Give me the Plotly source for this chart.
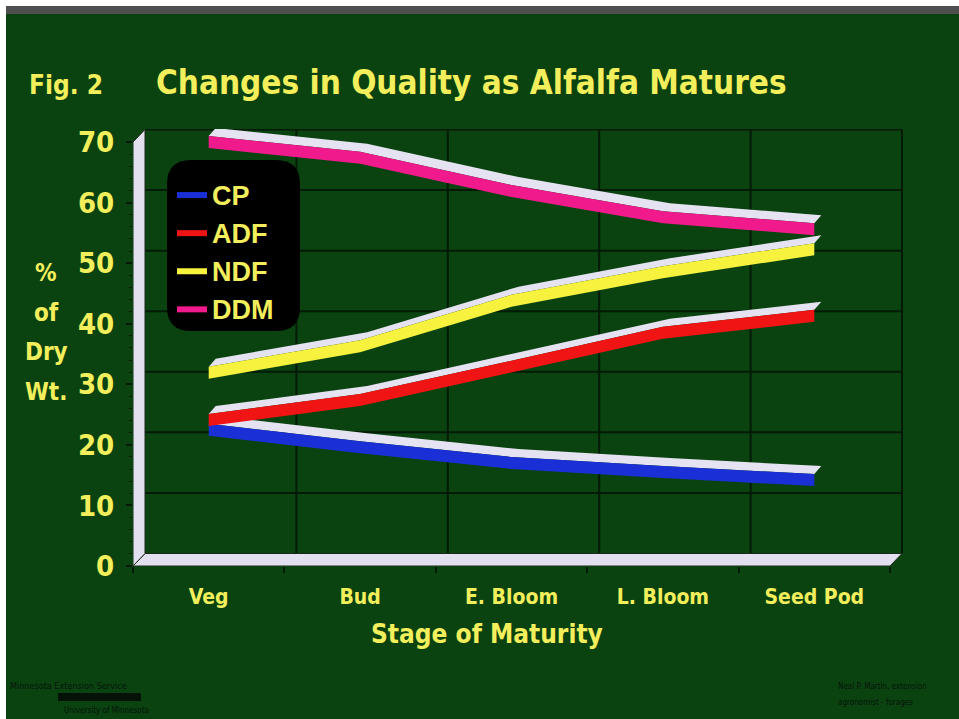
import plotly.graph_objects as go

# ---- data -------------------------------------------------------------
stages = ["Veg", "Bud", "E. Bloom", "L. Bloom", "Seed Pod"]
cp = [22.5, 19.6, 17.0, 15.5, 14.2]
adf = [24.1, 27.4, 32.9, 38.5, 41.3]
ndf = [31.9, 36.3, 43.8, 48.5, 52.3]
ddm = [70.0, 67.4, 61.9, 57.6, 55.6]
series_names = ["CP", "ADF", "NDF", "DDM"]
series_values = [cp, adf, ndf, ddm]
series_colors = ["#1b2fd6", "#f01414", "#f6f23e", "#f01a8c"]
y_ticks = [0, 10, 20, 30, 40, 50, 60, 70]
y_title_lines = ["%", "of", "Dry", "Wt."]

# ---- geometry ---------------------------------------------------------
W, H = 959, 719
ML, MR, MT, MB = 133, 54, 129, 153
PW, PH = W - ML - MR, H - MT - MB
CAT_PX = 151.4                       # pixels per category slot
Y_MAX = 72.15
X0 = -0.5
X1 = X0 + PW / CAT_PX
UNIT_PX = PH / Y_MAX                 # pixels per percentage point
N = len(stages)

DX = 12 / CAT_PX                     # depth of the 3-D box
DY = 12.5 / UNIT_PX
HALF = 6 / UNIT_PX                   # half height of a ribbon's front face
RDX = 7 / CAT_PX                     # depth of a ribbon's top face
RDY = 8 / UNIT_PX

BG = "#0a4310"
TXT = "#f3ef5c"
RIB_TOP = "#e5e3f1"
GRID = "#031a06"
WALL = "#e2e0ee"
INK = "#061409"


def px(xp):
    return (xp - ML) / PW


def py(yp):
    return (H - MB - yp) / PH


fig = go.Figure()

xs = list(range(N))
for name, vals, col in zip(series_names, series_values, series_colors):
    # top (lit) face of the ribbon
    top_x = xs + [x + RDX for x in xs[::-1]]
    top_y = [v + HALF for v in vals] + [v + HALF + RDY for v in vals[::-1]]
    fig.add_trace(go.Scatter(
        x=top_x + [top_x[0]], y=top_y + [top_y[0]], mode="lines",
        fill="toself", fillcolor=RIB_TOP, line=dict(width=0, color=RIB_TOP),
        showlegend=False, hoverinfo="skip"))
    # coloured front face
    f_x = xs + xs[::-1]
    f_y = [v + HALF for v in vals] + [v - HALF for v in vals[::-1]]
    fig.add_trace(go.Scatter(
        x=f_x + [f_x[0]], y=f_y + [f_y[0]], mode="lines",
        fill="toself", fillcolor=col, line=dict(width=0, color=col),
        name=name, hoverinfo="skip"))

shapes = []
# back wall grid
for v in y_ticks[1:]:
    shapes.append(dict(type="line", xref="x", yref="y", layer="below",
                       x0=X0 + DX, x1=X0 + N + DX, y0=v + DY, y1=v + DY,
                       line=dict(color=GRID, width=2)))
for b in range(1, N + 1):
    shapes.append(dict(type="line", xref="x", yref="y", layer="below",
                       x0=X0 + b + DX, x1=X0 + b + DX, y0=DY, y1=y_ticks[-1] + DY,
                       line=dict(color=GRID, width=2)))
# floor
xr = X0 + N
shapes.append(dict(type="path", xref="x", yref="y", layer="below",
                   path=f"M {X0},0 L {xr},0 L {xr + DX},{DY} L {X0 + DX},{DY} Z",
                   fillcolor=WALL, line=dict(color="#1a2a1a", width=1)))
# left wall
ytop = y_ticks[-1]
shapes.append(dict(type="path", xref="x", yref="y", layer="below",
                   path=f"M {X0},0 L {X0 + DX},{DY} L {X0 + DX},{ytop + DY} L {X0},{ytop} Z",
                   fillcolor=WALL, line=dict(color="#1a2a1a", width=1)))

# rounded black panel behind the legend
lx0, lx1, ly0, ly1, rad = 167, 300, 160, 331, 24
rx, ry = rad / PW, rad / PH
a, b_, c, d = px(lx0), px(lx1), py(ly1), py(ly0)
legend_path = (f"M {a + rx},{d} L {b_ - rx},{d} Q {b_},{d} {b_},{d - ry} "
               f"L {b_},{c + ry} Q {b_},{c} {b_ - rx},{c} "
               f"L {a + rx},{c} Q {a},{c} {a},{c + ry} "
               f"L {a},{d - ry} Q {a},{d} {a + rx},{d} Z")
shapes.append(dict(type="path", xref="paper", yref="paper", layer="above",
                   path=legend_path, fillcolor="#000000", line=dict(width=0)))

# slide frame: white edge and grey strip at the top
shapes.append(dict(type="rect", xref="paper", yref="paper", layer="above",
                   x0=px(0), x1=px(6), y0=py(H), y1=py(0),
                   fillcolor="#ffffff", line=dict(width=0)))
shapes.append(dict(type="rect", xref="paper", yref="paper", layer="above",
                   x0=px(0), x1=px(W), y0=py(6), y1=py(0),
                   fillcolor="#ffffff", line=dict(width=0)))
shapes.append(dict(type="rect", xref="paper", yref="paper", layer="above",
                   x0=px(6), x1=px(W), y0=py(14), y1=py(6),
                   fillcolor="#4f4f4f", line=dict(width=0)))
# redaction bar in the footer credit
shapes.append(dict(type="rect", xref="paper", yref="paper", layer="above",
                   x0=px(58), x1=px(141), y0=py(701), y1=py(693),
                   fillcolor="#051208", line=dict(width=0)))

COND = "DejaVu Sans Condensed, DejaVu Sans, sans-serif"
SANS = "Liberation Sans, Arial, sans-serif"


def cond_font(size, color=TXT, bold=True):
    return dict(family=COND, size=size, color=color,
                weight="bold" if bold else "normal")


annotations = [
    dict(text="Fig. 2", x=px(27), y=py(85), xanchor="left", yanchor="middle",
         font=cond_font(26)),
    dict(text="Changes in Quality as Alfalfa Matures", x=px(154), y=py(82),
         xanchor="left", yanchor="middle", font=cond_font(33)),
    dict(text="Stage of Maturity", x=px(487), y=py(634), xanchor="center",
         yanchor="middle", font=cond_font(26)),
    dict(text="Minnesota Extension Service", x=px(8), y=py(686), xanchor="left",
         yanchor="middle", font=cond_font(9, INK, False)),
    dict(text="University of Minnesota", x=px(62), y=py(710), xanchor="left",
         yanchor="middle", font=cond_font(8, INK, False)),
    dict(text="Neal P. Martin, extension", x=px(836), y=py(686), xanchor="left",
         yanchor="middle", font=cond_font(8, INK, False)),
    dict(text="agronomist - forages", x=px(836), y=py(702), xanchor="left",
         yanchor="middle", font=cond_font(8, INK, False)),
]
# vertical axis title, one word per line
for i, word in enumerate(y_title_lines):
    annotations.append(dict(text=word, x=px(46), y=py(273 + 39.5 * i),
                            xanchor="center", yanchor="middle",
                            font=cond_font(24)))
for an in annotations:
    an.update(xref="paper", yref="paper", showarrow=False)

fig.update_layout(
    width=W, height=H,
    margin=dict(l=ML, r=MR, t=MT, b=MB, pad=0),
    paper_bgcolor=BG, plot_bgcolor=BG,
    shapes=shapes, annotations=annotations,
    legend=dict(x=px(172), y=py(170), xanchor="left", yanchor="top",
                bgcolor="rgba(0,0,0,0)", borderwidth=0,
                font=dict(family=SANS, size=27, color=TXT, weight="bold"),
                itemclick=False, itemdoubleclick=False),
    xaxis=dict(range=[X0, X1], tickvals=xs, ticktext=stages, ticks="",
               showgrid=False, zeroline=False, showline=False,
               ticklabelstandoff=16,
               tickfont=cond_font(21),
               minor=dict(tickvals=[X0 + i for i in range(N + 1)], ticks="outside",
                          ticklen=6, tickwidth=1.5, tickcolor=GRID, showgrid=False)),
    yaxis=dict(range=[0, Y_MAX], tickvals=y_ticks, ticks="outside", ticklen=6,
               tickwidth=1.5, tickcolor=GRID, showgrid=False, zeroline=False,
               showline=False, ticklabelstandoff=6,
               tickfont=cond_font(29),
               minor=dict(tickvals=[v for v in range(2, 70, 2) if v % 10],
                          ticks="outside", ticklen=3, tickwidth=1,
                          tickcolor=GRID, showgrid=False)),
)

fig.write_html("out.html")
